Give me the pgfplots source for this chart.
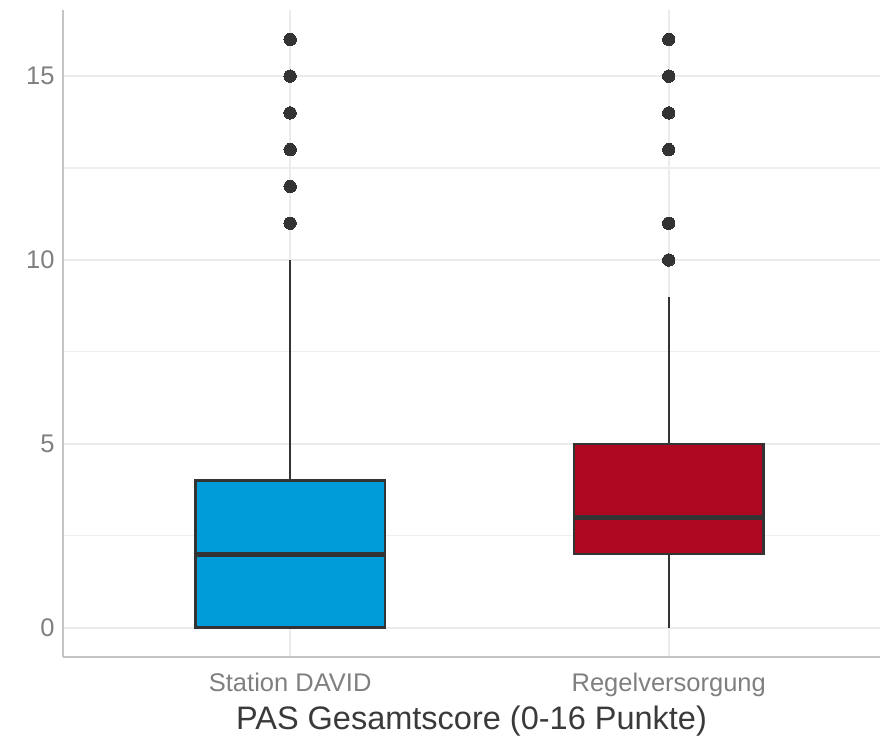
\documentclass[border=0pt]{standalone}
\usepackage{fontspec}
\setmainfont{Liberation Sans}
\usepackage{pgfplots}
\pgfplotsset{compat=1.18}
\usepgfplotslibrary{statistics}

\definecolor{davidblue}{HTML}{009BD9}
\definecolor{regelred}{HTML}{AD0721}
\definecolor{boxline}{HTML}{333333}
\definecolor{gridgray}{HTML}{EBEBEB}
\definecolor{axisgray}{HTML}{C4C4C4}
\definecolor{ticktext}{HTML}{7F7F7F}
\definecolor{labeltext}{HTML}{3A3A3A}

\begin{document}
\begin{tikzpicture}
\useasboundingbox (-63pt,-79pt) rectangle (817pt,657pt);
\begin{axis}[
  at={(0pt,0pt)}, anchor=south west,
  scale only axis, width=817pt, height=647pt,
  xmin=0.4, xmax=2.558, ymin=-0.8, ymax=16.8,
  axis x line*=bottom, axis y line*=left,
  axis line style={draw=axisgray, line width=1.6pt},
  xtick={1,2}, xticklabels={Station DAVID, Regelversorgung},
  ytick={0,5,10,15}, minor ytick={2.5,7.5,12.5},
  major tick length=0pt, minor tick length=0pt,
  tick style={draw=none},
  xmajorgrids, ymajorgrids, yminorgrids,
  major grid style={draw=gridgray, line width=2pt},
  minor grid style={draw=gridgray!80, line width=1.2pt},
  /pgf/number format/assume math mode=true,
  tick label style={font=\fontsize{25.5}{30}\selectfont, text=ticktext},
  yticklabel style={xshift=-5pt},
  xticklabel style={yshift=-12pt},
  xlabel={PAS Gesamtscore (0-16 Punkte)},
  xlabel style={font=\fontsize{32.5}{38}\selectfont, text=labeltext, yshift=-3pt},
  boxplot/draw direction=y,
  boxplot/box extend=0.5,
  boxplot/whisker extend=0,
  boxplot/every whisker/.style={draw=boxline, line width=2.2pt},
  boxplot/every median/.style={draw=boxline, line width=5pt},
  clip=false,
]
% Station DAVID
\addplot+[
  boxplot prepared={
    lower whisker=0, lower quartile=0, median=2,
    upper quartile=4, upper whisker=10, draw position=1
  },
  boxplot/every box/.style={draw=boxline, fill=davidblue, line width=2.4pt},
  mark=*, mark size=6.2pt, mark options={draw=boxline, fill=boxline, line width=0pt},
  draw=boxline, solid,
] table[row sep=\\, y index=0] {11\\ 12\\ 13\\ 14\\ 15\\ 16\\};
% Regelversorgung
\addplot+[
  boxplot prepared={
    lower whisker=0, lower quartile=2, median=3,
    upper quartile=5, upper whisker=9, draw position=2
  },
  boxplot/every box/.style={draw=boxline, fill=regelred, line width=2.4pt},
  mark=*, mark size=6.2pt, mark options={draw=boxline, fill=boxline, line width=0pt},
  draw=boxline, solid,
] table[row sep=\\, y index=0] {10\\ 11\\ 13\\ 14\\ 15\\ 16\\};
\end{axis}
\end{tikzpicture}
\end{document}
